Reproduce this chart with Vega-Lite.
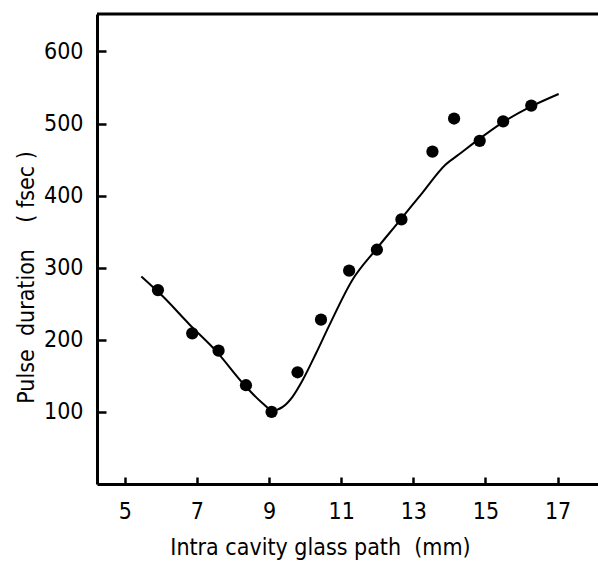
{
  "$schema": "https://vega.github.io/schema/vega-lite/v6.json",
  "autosize": "none",
  "width": 501,
  "height": 470,
  "padding": {"left": 97, "top": 14, "right": 0, "bottom": 77},
  "background": "white",
  "config": {
    "view": {"stroke": null},
    "font": "DejaVu Sans Condensed, Liberation Sans, sans-serif",
    "axis": {
      "domainColor": "black",
      "domainWidth": 3,
      "tickColor": "black",
      "tickWidth": 2.5,
      "grid": false,
      "labelFont": "DejaVu Sans Condensed, Liberation Sans, sans-serif",
      "labelFontSize": 23,
      "labelColor": "black",
      "titleFont": "DejaVu Sans Condensed, Liberation Sans, sans-serif",
      "titleFontSize": 23,
      "titleFontWeight": "normal",
      "titleColor": "black"
    }
  },
  "datasets": {
    "points": [
      {"x": 5.92, "y": 269},
      {"x": 6.87, "y": 209},
      {"x": 7.60, "y": 185},
      {"x": 8.36, "y": 137},
      {"x": 9.07, "y": 100},
      {"x": 9.79, "y": 155},
      {"x": 10.44, "y": 228},
      {"x": 11.22, "y": 296},
      {"x": 11.99, "y": 325},
      {"x": 12.67, "y": 367},
      {"x": 13.53, "y": 461},
      {"x": 14.13, "y": 507},
      {"x": 14.84, "y": 476},
      {"x": 15.49, "y": 503},
      {"x": 16.27, "y": 525}
    ],
    "curve": [
      {"x": 5.46, "y": 288},
      {"x": 6.06, "y": 260},
      {"x": 6.80, "y": 221},
      {"x": 7.54, "y": 184},
      {"x": 8.27, "y": 140},
      {"x": 8.82, "y": 112},
      {"x": 9.10, "y": 102},
      {"x": 9.38, "y": 107},
      {"x": 9.65, "y": 121},
      {"x": 9.93, "y": 144},
      {"x": 10.30, "y": 181},
      {"x": 10.67, "y": 220},
      {"x": 11.31, "y": 283},
      {"x": 11.96, "y": 325},
      {"x": 12.60, "y": 364},
      {"x": 13.25, "y": 404},
      {"x": 13.89, "y": 443},
      {"x": 14.26, "y": 457},
      {"x": 14.81, "y": 478},
      {"x": 15.46, "y": 501},
      {"x": 16.20, "y": 522},
      {"x": 17.03, "y": 541}
    ],
    "frame": [{"top": 652}]
  },
  "layer": [
    {
      "data": {"name": "frame"},
      "mark": {"type": "rule", "color": "black", "strokeWidth": 3},
      "encoding": {
        "y": {"field": "top", "type": "quantitative", "scale": {"domain": [0, 652]}}
      }
    },
    {
      "data": {"name": "curve"},
      "mark": {"type": "line", "color": "black", "strokeWidth": 2, "interpolate": "monotone"},
      "encoding": {
        "x": {"field": "x", "type": "quantitative"},
        "y": {"field": "y", "type": "quantitative"}
      }
    },
    {
      "data": {"name": "points"},
      "mark": {"type": "point", "filled": true, "color": "black", "opacity": 1, "size": 150},
      "encoding": {
        "x": {
          "field": "x", "type": "quantitative",
          "scale": {"domain": [4.23, 18.12], "nice": false, "zero": false},
          "axis": {
            "values": [5, 6, 7, 8, 9, 10, 11, 12, 13, 14, 15, 16, 17, 18],
            "labelExpr": "datum.value % 2 == 1 ? datum.label : ''",
            "tickSize": -7,
            "labelPadding": 23,
            "title": "Intra cavity glass path \u00a0(mm)",
            "titleX": 223,
            "titleY": 70,
            "titleBaseline": "alphabetic",
            "titleAnchor": null
          }
        },
        "y": {
          "field": "y", "type": "quantitative",
          "scale": {"domain": [0, 652], "nice": false},
          "axis": {
            "values": [100, 200, 300, 400, 500, 600],
            "tickSize": -9,
            "labelPadding": 23,
            "title": "Pulse\u00a0 duration\u00a0\u00a0\u00a0 (\u00a0fsec\u00a0)",
            "titleX": -64,
            "titleY": 263,
            "titleAngle": -90,
            "titleBaseline": "alphabetic"
          }
        }
      }
    }
  ]
}
